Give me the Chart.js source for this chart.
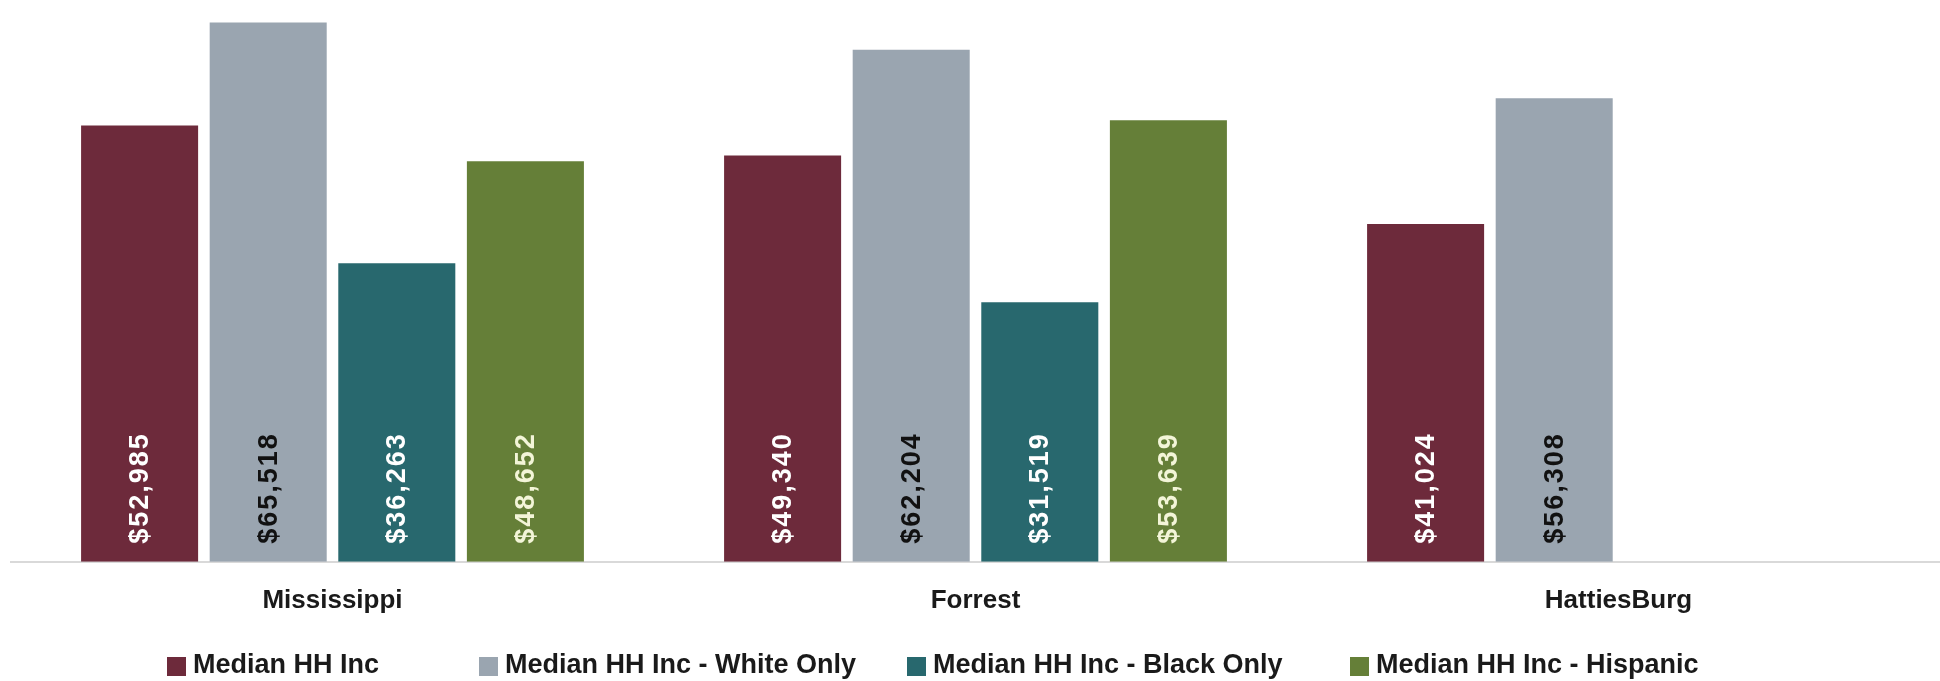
<!DOCTYPE html>
<html>
<head>
<meta charset="utf-8">
<script src="https://cdn.jsdelivr.net/npm/chart.js@4.4.1/dist/chart.umd.min.js"></script>
<style>
html,body{margin:0;padding:0;background:#fff;}
#wrap{width:1940px;height:681px;position:relative;overflow:hidden;}
#legend{position:absolute;left:0;top:649px;width:1940px;height:30px;font-family:'Liberation Sans',Arial,sans-serif;font-weight:bold;font-size:27px;color:#1a1a1a;}
.item{position:absolute;top:0;height:30px;line-height:30px;white-space:nowrap;display:flex;align-items:center;}
.box{width:19px;height:19px;margin-right:7px;margin-top:4px;}
</style>
</head>
<body>
<div id="wrap"><canvas id="c" width="1940" height="681"></canvas><div id="legend"></div></div>
<script>
const categories = ["Mississippi", "Forrest", "HattiesBurg"];
const seriesNames = ["Median HH Inc", "Median HH Inc - White Only", "Median HH Inc - Black Only", "Median HH Inc - Hispanic"];
const medianAll = [52985, 49340, 41024];
const medianWhite = [65518, 62204, 56308];
const medianBlack = [36263, 31519, null];
const medianHispanic = [48652, 53639, null];
const seriesColors = ["#6d2a3b", "#9aa5b0", "#28686e", "#657f38"];
const labelColors = ["#ffffff", "#111111", "#ffffff", "#f3f5d8"];

const seriesValues = [medianAll, medianWhite, medianBlack, medianHispanic];
const legendLeft = [167, 479, 907, 1350];

const fmt = v => "$" + v.toLocaleString("en-US");

const barLabels = {
  id: "barLabels",
  afterDatasetsDraw(chart) {
    const ctx = chart.ctx;
    chart.data.datasets.forEach((ds, i) => {
      const meta = chart.getDatasetMeta(i);
      meta.data.forEach((bar, j) => {
        const v = ds.data[j];
        if (v === null || v === undefined) return;
        ctx.save();
        ctx.translate(bar.x, bar.base - 18);
        ctx.rotate(-Math.PI / 2);
        ctx.font = "bold 27px 'Liberation Sans', Arial, sans-serif";
        try { ctx.letterSpacing = "2px"; } catch (e) {}
        ctx.fillStyle = labelColors[i];
        ctx.textAlign = "left";
        ctx.textBaseline = "middle";
        ctx.fillText(fmt(v), 0, 1);
        ctx.restore();
      });
    });
  }
};

const chart = new Chart(document.getElementById("c"), {
  type: "bar",
  data: {
    labels: categories,
    datasets: seriesNames.map((n, i) => ({
      label: n,
      data: seriesValues[i],
      backgroundColor: seriesColors[i],
      borderWidth: 0,
      categoryPercentage: 0.8,
      barPercentage: 0.91
    }))
  },
  options: {
    responsive: false,
    animation: false,
    devicePixelRatio: 1,
    layout: { padding: { left: 11, right: 0, top: 2, bottom: 42 } },
    plugins: {
      tooltip: { enabled: false },
      legend: { display: false }
    },
    scales: {
      x: {
        grid: { display: false, drawTicks: false },
        border: { display: true, color: "#d9d9d9", width: 2 },
        ticks: {
          color: "#1a1a1a",
          padding: 23,
          font: { family: "'Liberation Sans', Arial, sans-serif", size: 26, weight: "bold" }
        }
      },
      y: {
        display: false,
        min: 0,
        max: 68000
      }
    }
  },
  plugins: [barLabels]
});

// HTML legend built from the chart's datasets
const legendEl = document.getElementById("legend");
chart.data.datasets.forEach((ds, i) => {
  const it = document.createElement("div");
  it.className = "item";
  it.style.left = legendLeft[i] + "px";
  const b = document.createElement("span");
  b.className = "box";
  b.style.background = ds.backgroundColor;
  const t = document.createElement("span");
  t.textContent = ds.label;
  it.appendChild(b);
  it.appendChild(t);
  legendEl.appendChild(it);
});
</script>
</body>
</html>
